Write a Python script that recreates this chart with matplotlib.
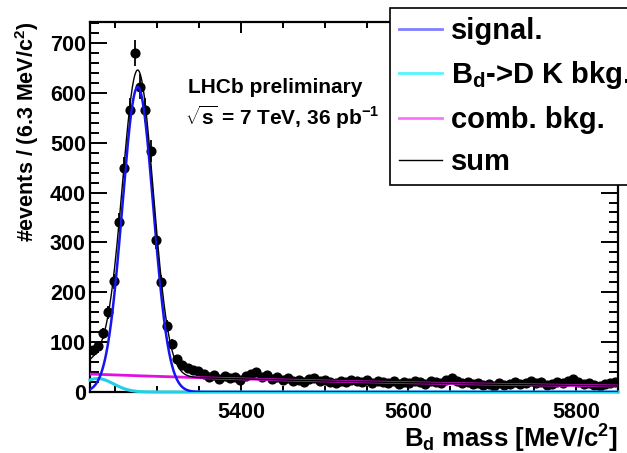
import numpy as np
import matplotlib
matplotlib.use("Agg")
import matplotlib.pyplot as plt
from matplotlib.lines import Line2D
from matplotlib.ticker import MultipleLocator

plt.rcParams["font.family"] = ["Liberation Sans", "DejaVu Sans"]
plt.rcParams["font.weight"] = "bold"
plt.rcParams["axes.labelweight"] = "bold"
plt.rcParams["mathtext.fontset"] = "custom"
plt.rcParams["mathtext.rm"] = "Liberation Sans:bold"
plt.rcParams["mathtext.it"] = "Liberation Sans:bold"
plt.rcParams["mathtext.bf"] = "Liberation Sans:bold"

# ---- histogram: 100 bins of 6.3 MeV/c^2 from 5220 to 5850 ----
mass_lo, mass_hi, n_bins = 5220.0, 5850.0, 100
counts = [
    84, 92, 118, 160, 222, 340, 450, 566, 680, 612,
    566, 484, 304, 220, 132, 96, 66, 54, 48, 44,
    42, 36, 30, 34, 26, 32, 28, 30, 24, 32,
    36, 40, 30, 34, 26, 30, 24, 28, 22, 24,
    20, 26, 28, 22, 24, 20, 18, 22, 20, 24,
    22, 20, 24, 18, 22, 20, 18, 22, 16, 20,
    18, 22, 20, 16, 22, 20, 18, 24, 28, 22,
    18, 20, 16, 18, 14, 16, 12, 18, 14, 16,
    20, 16, 18, 22, 18, 20, 14, 16, 20, 18,
    22, 26, 20, 16, 18, 14, 12, 16, 18, 20,
]

# ---- fit components (per-bin yields) ----
sig_mean, sig_sigma, sig_peak = 5277.0, 18.5, 612.0      # signal Gaussian
dk_mean, dk_sigma, dk_peak = 5229.0, 19.0, 27.0          # B_d -> D K background
comb_at_lo, comb_slope = 36.0, -0.00174                  # exponential combinatorial

edges = np.linspace(mass_lo, mass_hi, n_bins + 1)
centers = 0.5 * (edges[:-1] + edges[1:])
y = np.array(counts, dtype=float)
yerr = np.sqrt(y)

m = np.linspace(mass_lo, mass_hi, 1200)
signal = sig_peak * np.exp(-0.5 * ((m - sig_mean) / sig_sigma) ** 2)
dk_bkg = dk_peak * np.exp(-0.5 * ((m - dk_mean) / dk_sigma) ** 2)
comb = comb_at_lo * np.exp(comb_slope * (m - mass_lo))
total = signal + dk_bkg + comb

fig = plt.figure(figsize=(6.27, 4.53), dpi=100)
ax = fig.add_axes([90 / 627, 61 / 453, 528 / 627, 370 / 453])

ax.errorbar(centers, y, yerr=yerr, fmt="o", color="black", ms=6.3,
            elinewidth=1.3, capsize=0, zorder=3)
ax.plot(m, dk_bkg, color="#22D0E6", lw=2.2, zorder=4, clip_on=False)
ax.plot(m, comb, color="#E010E0", lw=2.0, zorder=4)
ax.plot(m, signal, color="#1515F0", lw=1.8, zorder=5)
ax.plot(m, total, color="black", lw=1.0, zorder=6)

ax.set_xlim(mass_lo, mass_hi)
ax.set_ylim(0, 742)
ax.xaxis.set_major_locator(MultipleLocator(200))
ax.xaxis.set_minor_locator(MultipleLocator(50))
ax.yaxis.set_major_locator(MultipleLocator(100))
ax.yaxis.set_minor_locator(MultipleLocator(20))
ax.set_xticks([5400, 5600, 5800])

for s in ax.spines.values():
    s.set_linewidth(1.6)
ax.tick_params(axis="both", which="both", direction="in", top=True, right=True,
               width=1.4, labelsize=15.5)
ax.tick_params(axis="y", which="major", length=12, pad=3)
ax.tick_params(axis="y", which="minor", length=6.5)
ax.tick_params(axis="x", which="major", length=8, pad=7)
ax.tick_params(axis="x", which="minor", length=4.5)

ax.set_xlabel(r"B$_{\mathrm{d}}$ mass [MeV/c$^{2}$]", fontsize=18.5,
              fontweight="bold", loc="right", labelpad=0)
ax.set_ylabel(r"#events / (6.3 MeV/c$^{2}$)", fontsize=15.5,
              fontweight="bold", loc="top", labelpad=6)

fig.text(188 / 627, 1 - 93 / 453, "LHCb preliminary", fontsize=15,
         ha="left", va="baseline")
fig.text(185 / 627, 1 - 125 / 453, r"$\sqrt{s}$ = 7 TeV, 36 pb$^{-1}$",
         fontsize=15, ha="left", va="baseline")

handles = [
    Line2D([], [], color="#8080FF", lw=2.0),
    Line2D([], [], color="#55F5FF", lw=2.0),
    Line2D([], [], color="#FF70FF", lw=2.0),
    Line2D([], [], color="black", lw=1.0),
]
labels = ["signal.", r"B$_{\mathrm{d}}$->D K bkg.", "comb. bkg.", "sum"]
leg = fig.legend(handles, labels, loc="upper left",
                 bbox_to_anchor=(390 / 627, 1 - 8 / 453),
                 bbox_transform=fig.transFigure, borderaxespad=0,
                 fontsize=21, handlelength=1.48, handletextpad=0.3,
                 labelspacing=0.5, borderpad=0.3, fancybox=False,
                 framealpha=1, edgecolor="black")
leg.get_frame().set_linewidth(1.2)

fig.savefig("out.png", dpi=100)
